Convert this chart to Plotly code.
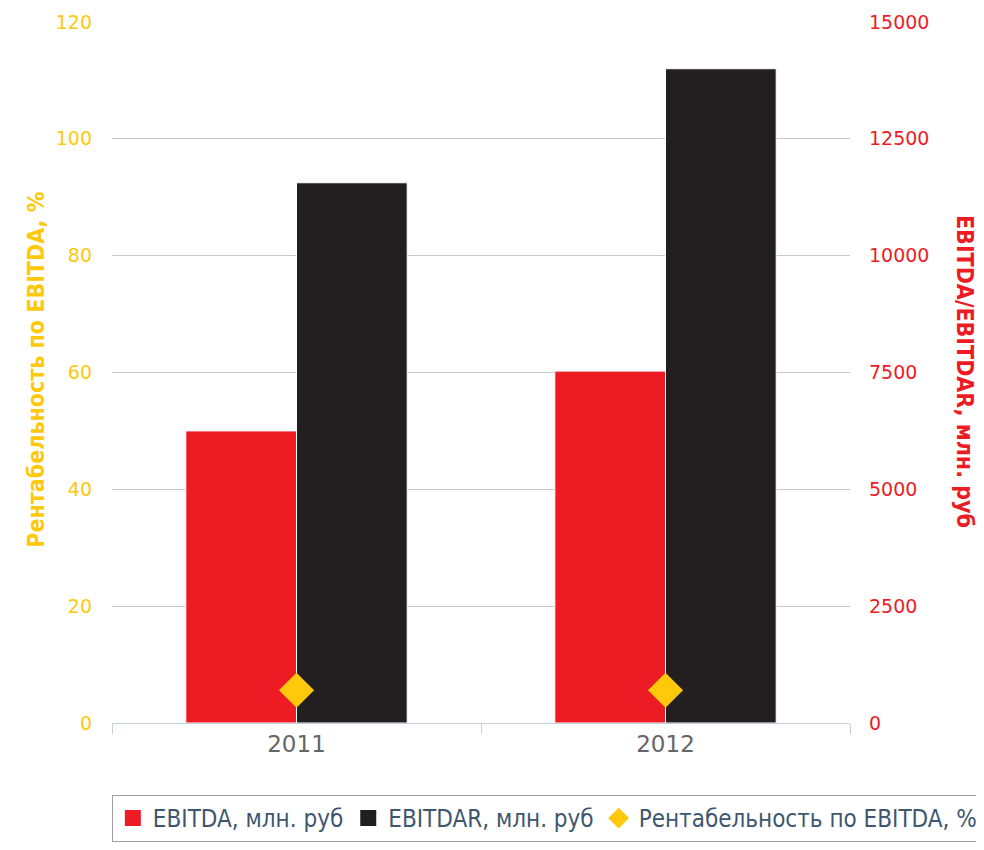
import plotly.graph_objects as go

years = ["2011", "2012"]
ebitda = [6250, 7530]
ebitdar = [11560, 14000]
margin_pct = [5.6, 5.6]

left_ticks = [0, 20, 40, 60, 80, 100, 120]
right_ticks = [0, 2500, 5000, 7500, 10000, 12500, 15000]

RED = "#ED1C24"
BLACK = "#231F20"
GOLD = "#FFC80A"
TICKFONT = "DejaVu Sans"
COND = "DejaVu Sans Condensed"

fig = go.Figure()
fig.add_trace(go.Bar(
    x=years, y=ebitda, name="EBITDA, млн. руб", showlegend=False,
    marker=dict(color=RED, line=dict(color="white", width=1)),
    xaxis="x", yaxis="y"))
fig.add_trace(go.Bar(
    x=years, y=ebitdar, name="EBITDAR, млн. руб", showlegend=False,
    marker=dict(color=BLACK, line=dict(color="white", width=1)),
    xaxis="x", yaxis="y"))
fig.add_trace(go.Scatter(
    x=years, y=margin_pct, name="Рентабельность по EBITDA, %", mode="markers", showlegend=False,
    marker=dict(symbol="diamond", size=27, color=GOLD, line=dict(width=0)),
    xaxis="x", yaxis="y2"))

# legend entries (same series, larger legend symbols)
legend_items = [("EBITDA, млн. руб", "square", RED),
                ("EBITDAR, млн. руб", "square", BLACK),
                ("Рентабельность по EBITDA, %", "diamond", GOLD)]
for name, sym, col in legend_items:
    fig.add_trace(go.Scatter(
        x=[None], y=[None], name=name, mode="markers",
        marker=dict(symbol=sym, size=16, color=col), xaxis="x", yaxis="y2"))

fig.update_layout(
    width=984, height=850,
    margin=dict(l=104, r=142, t=14, b=135, autoexpand=False),
    paper_bgcolor="white", plot_bgcolor="white",
    barmode="group", bargap=0.4, bargroupgap=0.0,
    showlegend=True,
    legend=dict(
        orientation="h", x=1.18, xanchor="right", y=-0.1027, yanchor="top",
        bordercolor="#A0A0A0", borderwidth=1, bgcolor="white",
        font=dict(family=COND, size=24, color="#3E576F"),
        itemsizing="trace", tracegroupgap=0, itemwidth=30,
    ),
    xaxis=dict(
        type="category", showgrid=False, showline=True, linecolor="#C0D0E0", linewidth=1,
        ticks="outside", tickson="boundaries", ticklen=10, tickcolor="#C0D0E0",
        tickfont=dict(family=TICKFONT, size=23, color="#666666"), automargin=False,
    ),
    yaxis=dict(
        side="right", range=[0, 15000], tickvals=right_ticks,
        ticktext=[str(v) for v in right_ticks],
        showgrid=True, gridcolor="#C8C8C8", gridwidth=1, zeroline=False,
        tickfont=dict(family=TICKFONT, size=19, color=RED),
        ticks="", ticklabelstandoff=18, automargin=False,
    ),
    yaxis2=dict(
        side="left", overlaying="y", range=[0, 120], tickvals=left_ticks,
        showgrid=False, zeroline=False,
        tickfont=dict(family=TICKFONT, size=19, color=GOLD),
        ticks="", ticklabelstandoff=19, automargin=False,
    ),
    annotations=[
        dict(text="<b>Рентабельность по EBITDA, %</b>", xref="paper", yref="paper",
             x=-0.103, y=0.504, xanchor="center", yanchor="middle", showarrow=False,
             textangle=-90, font=dict(family=COND, size=23, color=GOLD)),
        dict(text="<b>EBITDA/EBITDAR, млн. руб</b>", xref="paper", yref="paper",
             x=1.156, y=0.502, xanchor="center", yanchor="middle", showarrow=False,
             textangle=90, font=dict(family=COND, size=23, color=RED)),
    ],
)

fig.write_html("out.html")
